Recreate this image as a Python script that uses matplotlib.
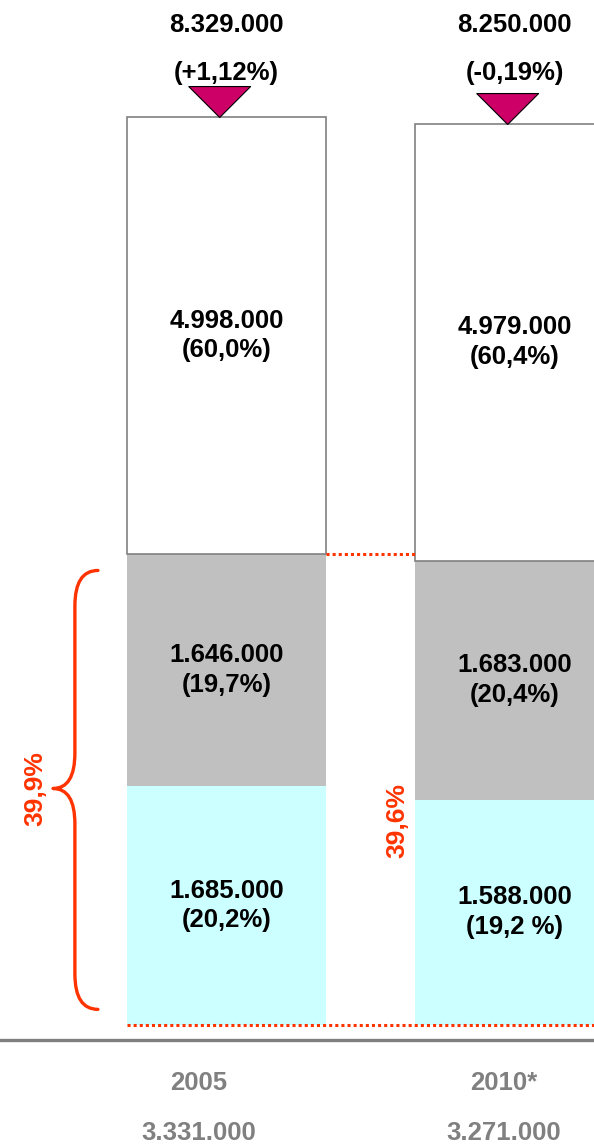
import numpy as np
import matplotlib
matplotlib.use("Agg")
import matplotlib.pyplot as plt
from matplotlib.path import Path
from matplotlib.patches import PathPatch

plt.rcParams['font.family'] = ['Liberation Sans', 'DejaVu Sans']
plt.rcParams['font.weight'] = 'bold'

# ---- data ----
years = ['2005', '2010*']
cyan_vals = [1685000, 1588000]
cyan_pct = ['20,2%', '19,2 %']
gray_vals = [1646000, 1683000]
gray_pct = ['19,7%', '20,4%']
white_vals = [4998000, 4979000]
white_pct = ['60,0%', '60,4%']
change_pct = ['+1,12%', '-0,19%']
share_lbl = ['39,9%', '39,6%']

RED = '#FF3300'
GREY_TXT = '#808080'
# horizontal nudge (pixels) of the labels under the axis, as in the source
below_dx = [-28, -11]


def fmt(v):
    return f"{int(v):,}".replace(",", ".")


# the upper (white) part of the bars is drawn compressed in the original,
# so use a piecewise linear y scale
BREAK = 3.3e6
RATIO = 0.615


def fwd(v):
    v = np.asarray(v, dtype=float)
    return np.where(v <= BREAK, v, BREAK + (v - BREAK) * RATIO)


def inv(t):
    t = np.asarray(t, dtype=float)
    return np.where(t <= BREAK, t, BREAK + (t - BREAK) / RATIO)


def seg_mid(lo, hi):
    return float(inv((fwd(lo) + fwd(hi)) / 2))


fig = plt.figure(figsize=(5.94, 11.45), dpi=100)
ax = fig.add_axes([0, 120 / 1145, 1, 1025 / 1145])
ax.set_yscale('function', functions=(fwd, inv))
ax.set_ylim(0, float(inv(1025 / 142 * 1e6)))
ax.set_xlim(-0.786, 1.276)

x = np.arange(len(years))
w = 0.691
low2 = np.add(cyan_vals, gray_vals)
totals = low2 + np.array(white_vals)

ax.bar(x, cyan_vals, w, color='#CCFFFF', linewidth=0, zorder=2)
ax.bar(x, gray_vals, w, bottom=cyan_vals, color='#C0C0C0', linewidth=0, zorder=2)
ax.bar(x, white_vals, w, bottom=low2, color='white', edgecolor='#808080',
       linewidth=1.2, zorder=2)

lab = dict(ha='center', va='center', fontsize=18.5, linespacing=1.3, zorder=4)
for i in range(len(years)):
    ax.text(x[i], seg_mid(0, cyan_vals[i]), f"{fmt(cyan_vals[i])}\n({cyan_pct[i]})", **lab)
    ax.text(x[i], seg_mid(cyan_vals[i], low2[i]), f"{fmt(gray_vals[i])}\n({gray_pct[i]})", **lab)
    ax.text(x[i], seg_mid(low2[i], totals[i]), f"{fmt(white_vals[i])}\n({white_pct[i]})", **lab)

    # totals and change on top
    ax.annotate(fmt(totals[i]), xy=(x[i], 1), xycoords=('data', 'axes fraction'),
                xytext=(0, -25), textcoords='offset pixels', ha='center', va='center',
                fontsize=18.5, annotation_clip=False)
    ax.annotate(f"({change_pct[i]})", xy=(x[i], 1), xycoords=('data', 'axes fraction'),
                xytext=(0, -73), textcoords='offset pixels', ha='center', va='center',
                fontsize=18.5, annotation_clip=False)

    # years and lower sum under the axis
    ax.annotate(years[i], xy=(x[i], 0), xycoords=('data', 'axes fraction'),
                xytext=(below_dx[i], -58), textcoords='offset pixels', ha='center',
                va='center', fontsize=18.5, color=GREY_TXT, annotation_clip=False)
    ax.annotate(fmt(low2[i]), xy=(x[i], 0), xycoords=('data', 'axes fraction'),
                xytext=(below_dx[i], -108), textcoords='offset pixels', ha='center',
                va='center', fontsize=18.5, color=GREY_TXT, annotation_clip=False)

# triangles pointing at the top of each bar (apex at the origin of the marker),
# sitting a little left of the bar centre
tri = [(-1.22, 1), (0.78, 1), (-0.22, 0), (-1.22, 1)]
ax.plot(x, totals, ls='none', marker=tri, ms=54.4, color='#CC0066',
        mec='black', mew=0.8, clip_on=False, zorder=5)

# red dotted guide lines
dot = dict(color=RED, lw=2.2, ls=(0, (1, 1)), clip_on=False, zorder=3)
ax.plot([x[0] - w / 2, x[-1] + 1], [0, 0], **dot)
ax.plot([x[0] + w / 2, x[1] - w / 2], [low2.max(), low2.max()], **dot)

# curly brace on the left of the first bar
x_end, x_mid, x_tip = -0.446, -0.526, -0.602
y0, y1 = 0.11e6, low2[0] - 0.13e6
ym = low2[0] / 2
c = 0.25e6
verts = [(x_end, y1), (x_mid, y1), (x_mid, y1 - c),
         (x_mid, ym + c),
         (x_mid, ym), (x_tip, ym),
         (x_mid, ym), (x_mid, ym - c),
         (x_mid, y0 + c),
         (x_mid, y0), (x_end, y0)]
codes = [Path.MOVETO, Path.CURVE3, Path.CURVE3,
         Path.LINETO,
         Path.CURVE3, Path.CURVE3,
         Path.CURVE3, Path.CURVE3,
         Path.LINETO,
         Path.CURVE3, Path.CURVE3]
ax.add_patch(PathPatch(Path(verts, codes), fill=False, edgecolor=RED, lw=2.4,
                       capstyle='round', joinstyle='round', zorder=3))

ax.text(-0.662, ym, share_lbl[0], rotation=90, color=RED, fontsize=19,
        ha='center', va='center')
ax.text(0.592, 1.44e6, share_lbl[1], rotation=90, color=RED, fontsize=19,
        ha='center', va='center')

# grey base line
for s in ['top', 'left', 'right']:
    ax.spines[s].set_visible(False)
ax.spines['bottom'].set_position(('outward', 15 * 0.72))
ax.spines['bottom'].set_color('#808080')
ax.spines['bottom'].set_linewidth(2.4)
ax.set_xticks([])
ax.set_yticks([])
ax.minorticks_off()

fig.savefig('out.png', dpi=100)
